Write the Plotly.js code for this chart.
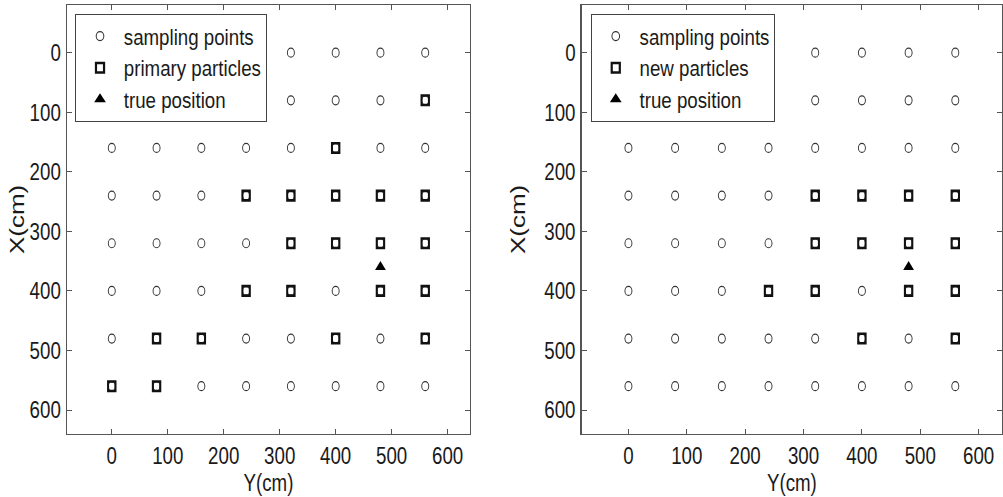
<!DOCTYPE html>
<html><head><meta charset="utf-8">
<script src="https://cdn.plot.ly/plotly-3.0.1.min.js"></script>
<style>html,body{margin:0;padding:0;background:#fff}#chart{width:1003px;height:497px}</style>
</head><body><div id="chart"></div>
<script>
// Sampling grid coordinates (cm)
const gridCoords = [0, 80, 160, 240, 320, 400, 480, 560];
// Primary particles (left): X (row) and Y (column)
const primaryX = [80,160,240,240,240,240,240,320,320,320,320,400,400,400,400,480,480,480,480,560,560];
const primaryY = [560,400,240,320,400,480,560,320,400,480,560,240,320,480,560,80,160,400,560,0,80];
// New particles (right)
const newX = [240,240,240,240,320,320,320,320,400,400,400,400,480,480];
const newY = [320,400,480,560,320,400,480,560,240,320,480,560,400,560];
// True position
const trueX = [360];
const trueY = [480];
const tickVals = [0,100,200,300,400,500,600];

const gx = [], gy = [];
gridCoords.forEach(r => gridCoords.forEach(c => { gy.push(r); gx.push(c); }));

const FONT = '"Liberation Sans", Arial, sans-serif';
const K = 0.78;   // horizontal compression of the reference picture
const KL = 0.85;  // legend horizontal compression
const circ = {symbol:'circle-open', size:9, color:'#333', line:{width:1.2, color:'#333'}};
const sq = {symbol:'square-open', size:9.5, color:'#111', line:{width:2.6, color:'#111'}};
const tri = {symbol:'triangle-up', size:12, color:'#000'};

const traces = [
  {x:gx, y:gy, mode:'markers', marker:circ, name:'sampling points', xaxis:'x', yaxis:'y', legend:'legend'},
  {x:primaryY, y:primaryX, mode:'markers', marker:sq, name:'primary particles', xaxis:'x', yaxis:'y', legend:'legend'},
  {x:trueY, y:trueX, mode:'markers', marker:tri, name:'true position', xaxis:'x', yaxis:'y', legend:'legend'},
  {x:gx, y:gy, mode:'markers', marker:circ, name:'sampling points', xaxis:'x2', yaxis:'y2', legend:'legend2'},
  {x:newY, y:newX, mode:'markers', marker:sq, name:'new particles', xaxis:'x2', yaxis:'y2', legend:'legend2'},
  {x:trueY, y:trueX, mode:'markers', marker:tri, name:'true position', xaxis:'x2', yaxis:'y2', legend:'legend2'}
];

function xa(dom, anchor){ return {domain:dom, anchor:anchor, range:[-80,640], tickvals:tickVals, ticks:'inside', ticklen:5, tickcolor:'#555',
  showline:true, linecolor:'#555', linewidth:1.4, mirror:'ticks', showgrid:false, zeroline:false,
  tickfont:{family:FONT, size:24, color:'#1a1a1a'}, title:{text:'Y(cm)', font:{family:FONT, size:24, color:'#1a1a1a'}, standoff:2}}; }
function ya(anchor){ return {domain:[0.127,0.99], anchor:anchor, range:[640,-80], tickvals:tickVals, ticks:'inside', ticklen:5, tickcolor:'#555',
  showline:true, linecolor:'#555', linewidth:1.4, mirror:'ticks', showgrid:false, zeroline:false,
  tickfont:{family:FONT, size:24, color:'#1a1a1a'}, title:{text:'X(cm)', font:{family:FONT, size:26, color:'#1a1a1a'}, standoff:2}}; }

function leg(x){ return {x:x, y:0.972, xanchor:'left', yanchor:'top', bgcolor:'#fff', bordercolor:'#444', borderwidth:1.4,
  font:{family:FONT, size:22, color:'#1a1a1a'}, itemwidth:46}; }

const layout = {
  width:1003, height:497, margin:{l:0,r:0,t:0,b:0}, paper_bgcolor:'#fff', plot_bgcolor:'#fff', showlegend:true,
  xaxis:xa([0.0668,0.4686],'y'), yaxis:ya('x'),
  xaxis2:xa([0.580,0.999],'y2'), yaxis2:ya('x2'),
  legend:leg(0.0748), legend2:leg(0.589)
};

function squeeze(gd){
  // horizontal text compression around each text's anchor
  gd.querySelectorAll('g.xtick text, g.ytick text, g.x2tick text, g.y2tick text, .g-xtitle text, .g-x2title text').forEach(t => {
    const x = +t.getAttribute('x') || 0, y = +t.getAttribute('y') || 0;
    const tr = t.getAttribute('transform') || '';
    t.setAttribute('transform', tr + ` translate(${x},${y}) scale(${K},1) translate(${-x},${-y})`);
  });
  // rotated titles: compress perpendicular to the baseline (screen horizontal)
  gd.querySelectorAll('.g-ytitle text, .g-y2title text').forEach(t => {
    const x = +t.getAttribute('x') || 0, y = +t.getAttribute('y') || 0;
    const tr = t.getAttribute('transform') || '';
    t.setAttribute('transform', tr + ` translate(${x},${y}) scale(1,${K}) translate(${-x},${-y})`);
  });
  gd.querySelectorAll('.scatterlayer path.point').forEach(p => {
    p.setAttribute('transform', (p.getAttribute('transform') || '') + ` scale(${K},1)`);
  });
  gd.querySelectorAll('.infolayer > g.legend, .infolayer > g.legend2').forEach(g => {
    g.setAttribute('transform', (g.getAttribute('transform') || '') + ` scale(${KL},1)`);
  });
}
Plotly.newPlot('chart', traces, layout, {displayModeBar:false, staticPlot:true}).then(squeeze);
</script></body></html>
